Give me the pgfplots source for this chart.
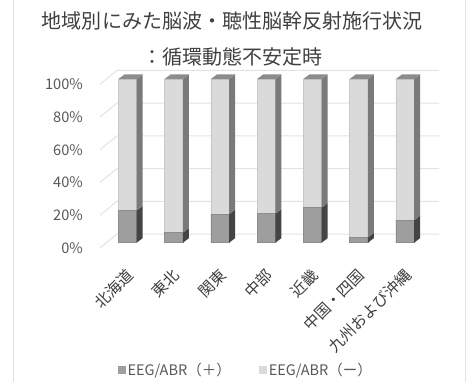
\documentclass[border=0pt]{standalone}
\usepackage{fontspec}
\setmainfont{Noto Sans CJK JP}
\usepackage{pgfplots}
\pgfplotsset{compat=1.18}
\definecolor{lightfront}{HTML}{DADADA}
\definecolor{lightedge}{HTML}{C8C8C8}
\definecolor{lightside}{HTML}{7A7A7A}
\definecolor{darkfront}{HTML}{9E9E9E}
\definecolor{darkedge}{HTML}{8C8C8C}
\definecolor{darkside}{HTML}{444444}
\definecolor{topface}{HTML}{8C8C8C}
\definecolor{gridc}{HTML}{E3E3E3}
\definecolor{txt}{HTML}{595959}
\definecolor{cat}{HTML}{3F3F3F}
\definecolor{titlec}{HTML}{404040}
\begin{document}
\begin{tikzpicture}[x=1bp,y=1bp]
\useasboundingbox (0,0) rectangle (470,382);
\fill[white] (0,0) rectangle (470,382);
\draw[gridc,line width=1bp] (13.5,0) -- (13.5,382);
\draw[gridc,line width=1bp] (465,0) -- (465,382);
\node[font=\fontsize{20bp}{35.5bp}\selectfont, text=titlec, align=center] at (232,343) {地域別にみた脳波・聴性脳幹反射施行状況\\：循環動態不安定時};
\begin{axis}[
  at={(100bp,122.93bp)}, anchor=south west,
  scale only axis, width=339bp, height=196.4bp,
  xmin=-0.595, xmax=6.735, ymin=-10, ymax=110,
  clip=false,
  axis line style={draw=none},
  major tick length=0pt,
  xtick={0,1,2,3,4,5,6},
  xticklabels={北海道,東北,関東,中部,近畿,中国・四国,九州および沖縄},
  ytick={-3.2,16.8,36.8,56.8,76.8,96.8},
  yticklabels={0\%,20\%,40\%,60\%,80\%,100\%},
  /pgf/number format/assume math mode=true,
  yticklabel style={font=\fontsize{14.6bp}{16bp}\selectfont, text=txt, inner sep=0pt, anchor=east, xshift=-17bp},
  xticklabel style={font=\fontsize{15.5bp}{17bp}\selectfont, text=cat, inner sep=0pt, anchor=east, xshift=3bp, yshift=-13bp, rotate=45},
  legend columns=2,
  legend style={at={(0.43,-0.565)}, anchor=center, draw=none, fill=none, font=\fontsize{14.5bp}{16bp}\selectfont, text=txt, /tikz/every even column/.append style={column sep=26bp}},
  legend image code/.code={\fill[#1] (0bp,-4bp) rectangle (8bp,4bp);},
]
\draw[gridc,line width=1bp] (axis cs:-0.595,-3.2) -- (axis cs:-0.227,5.3) -- (axis cs:6.735,5.3);
\draw[gridc,line width=1bp] (axis cs:-0.595,16.8) -- (axis cs:-0.227,25.3) -- (axis cs:6.735,25.3);
\draw[gridc,line width=1bp] (axis cs:-0.595,36.8) -- (axis cs:-0.227,45.3) -- (axis cs:6.735,45.3);
\draw[gridc,line width=1bp] (axis cs:-0.595,56.8) -- (axis cs:-0.227,65.3) -- (axis cs:6.735,65.3);
\draw[gridc,line width=1bp] (axis cs:-0.595,76.8) -- (axis cs:-0.227,85.3) -- (axis cs:6.735,85.3);
\draw[gridc,line width=1bp] (axis cs:-0.595,96.8) -- (axis cs:-0.227,105.3) -- (axis cs:6.735,105.3);
% front faces
\addplot[ybar, bar width=0.396, bar shift=0pt, fill=lightfront, draw=lightedge, line width=0.5bp, forget plot]
  coordinates {(0,100) (1,100) (2,100) (3,100) (4,100) (5,100) (6,100)};
\addplot[ybar, bar width=0.396, bar shift=0pt, fill=darkfront, draw=darkedge, line width=0.5bp, forget plot]
  coordinates {(0,19.7) (1,6.1) (2,17.4) (3,17.7) (4,21.4) (5,3.3) (6,13.7)};
% side faces of the dark segments
\addplot[fill=darkside, draw=none, forget plot, unbounded coords=jump] coordinates {
(0.198,0) (0.328,2.8) (0.328,22.5) (0.198,19.7) (0,nan)
(1.198,0) (1.328,2.8) (1.328,8.9) (1.198,6.1) (0,nan)
(2.198,0) (2.328,2.8) (2.328,20.2) (2.198,17.4) (0,nan)
(3.198,0) (3.328,2.8) (3.328,20.5) (3.198,17.7) (0,nan)
(4.198,0) (4.328,2.8) (4.328,24.2) (4.198,21.4) (0,nan)
(5.198,0) (5.328,2.8) (5.328,6.1) (5.198,3.3) (0,nan)
(6.198,0) (6.328,2.8) (6.328,16.5) (6.198,13.7)
};
% side faces of the light segments
\addplot[fill=lightside, draw=none, forget plot, unbounded coords=jump] coordinates {
(0.198,19.7) (0.328,22.5) (0.328,102.8) (0.198,100) (0,nan)
(1.198,6.1) (1.328,8.9) (1.328,102.8) (1.198,100) (0,nan)
(2.198,17.4) (2.328,20.2) (2.328,102.8) (2.198,100) (0,nan)
(3.198,17.7) (3.328,20.5) (3.328,102.8) (3.198,100) (0,nan)
(4.198,21.4) (4.328,24.2) (4.328,102.8) (4.198,100) (0,nan)
(5.198,3.3) (5.328,6.1) (5.328,102.8) (5.198,100) (0,nan)
(6.198,13.7) (6.328,16.5) (6.328,102.8) (6.198,100)
};
% top faces
\addplot[fill=topface, draw=none, forget plot, unbounded coords=jump] coordinates {
(-0.198,100) (-0.068,102.8) (0.328,102.8) (0.198,100) (0,nan)
(0.802,100) (0.932,102.8) (1.328,102.8) (1.198,100) (0,nan)
(1.802,100) (1.932,102.8) (2.328,102.8) (2.198,100) (0,nan)
(2.802,100) (2.932,102.8) (3.328,102.8) (3.198,100) (0,nan)
(3.802,100) (3.932,102.8) (4.328,102.8) (4.198,100) (0,nan)
(4.802,100) (4.932,102.8) (5.328,102.8) (5.198,100) (0,nan)
(5.802,100) (5.932,102.8) (6.328,102.8) (6.198,100)
};
\addlegendimage{fill=darkfront, draw=none}
\addlegendentry{EEG/ABR（＋）}
\addlegendimage{fill=lightfront, draw=none}
\addlegendentry{EEG/ABR（ー）}
\end{axis}
\end{tikzpicture}
\end{document}
